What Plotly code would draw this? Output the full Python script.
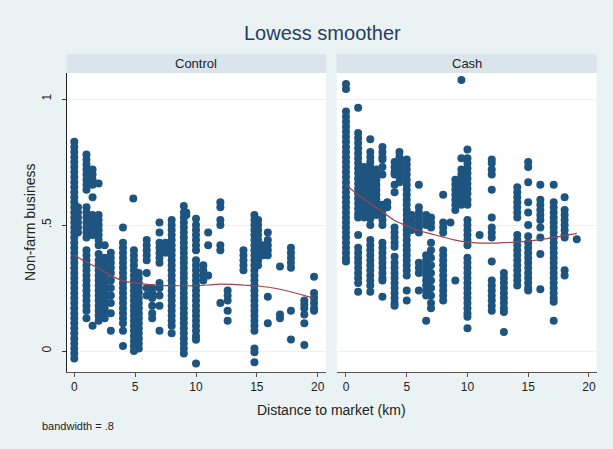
import plotly.graph_objects as go

# ---------------- data ----------------
ctrl_dist = [0.0, 0.3, 1.0, 1.5, 2.0, 2.5, 3.0, 4.0, 4.85, 4.9, 5.3, 5.95, 6.4, 7.0, 7.5,
             8.0, 9.0, 9.2, 10.0, 10.6, 11.0, 12.0, 12.6, 13.9, 14.8, 15.1, 15.5, 15.9,
             16.9, 17.8, 18.9, 19.7]
ctrl_vals = [
    [.83, .81, .79, .77, .75, .73, .71, .69, .67, .65, .63, .61, .59, .57, .55, .53, .51, .49, .47, .45,
     .43, .41, .39, .37, .35, .33, .31, .29, .27, .25, .23, .21, .19, .17, .15, .13, .11, .09, .07, .05,
     .03, .01, -.01, -.03],
    [.57, .55, .53, .51, .49, .47],
    [.78, .76, .74, .72, .70, .68, .66, .64, .57, .55, .53, .51, .49, .47, .45, .40, .38, .36, .34, .32,
     .30, .28, .26, .24, .22, .20, .18, .16, .13],
    [.72, .70, .68, .66, .61, .54, .52, .50, .48, .46, .10],
    [.665, .54, .52, .50, .48, .46, .44, .42, .385, .36, .34, .32, .30, .28, .26, .24, .22, .20, .18,
     .16, .14, .12],
    [.42, .37, .35, .33, .31, .29, .27, .25, .23, .21, .19, .17, .15, .13],
    [.39, .37, .35, .33, .31, .28, .25, .22, .19, .15, .08],
    [.49, .43, .41, .39, .37, .35, .33, .31, .29, .27, .25, .23, .21, .19, .17, .15, .13, .11, .08, .02],
    [.605],
    [.40, .38, .36, .34, .32, .30, .28, .26, .24, .22, .20, .18, .16, .14, .12, .10, .08, .06, .04, .02, .00],
    [.31, .29, .27, .25, .23, .21, .19, .17, .15, .13, .11, .09, .07, .05, .03, .01],
    [.44, .42, .40, .38, .36, .31, .25, .22],
    [.25, .23, .21, .18, .15, .13],
    [.51, .47, .43, .41, .39, .37, .35, .27, .25, .22, .18, .08],
    [.43, .41, .39],
    [.52, .50, .48, .46, .44, .42, .40, .38, .36, .34, .32, .30, .28, .26, .24, .22, .20, .18, .16, .14,
     .12, .10, .07],
    [.575, .55, .53, .51, .49, .47, .45, .43, .41, .39, .37, .35, .33, .31, .29, .27, .25, .23, .21, .19,
     .17, .15, .13, .11, .09, .07, .05, .03, .01, -.01],
    [.55, .54],
    [.525, .50, .48, .46, .44, .42, .40, .36, .34, .32, .30, .28, .26, .24, .22, .20, .18, .16, .14, .12,
     .10, .08, .06, .045, -.05],
    [.34, .32, .30, .28],
    [.47, .42, .30],
    [.59, .57, .52, .50, .42, .40, .19],
    [.24, .22, .20, .16, .12],
    [.40, .38, .36, .34, .32],
    [.54, .52, .50, .48, .46, .44, .42, .40, .38, .36, .34, .32, .30, .28, .26, .24, .22, .20, .18, .16,
     .14, .12, .10, .08, .01, -.005, -.045],
    [.52, .50, .48, .46, .44, .42, .40, .38, .36, .34],
    [.42, .40, .38],
    [.47, .44, .42, .40, .38, .215, .11],
    [.335, .145, .13],
    [.41, .39, .37, .35, .33, .16, .046],
    [.20, .185, .17, .145, .11, .024],
    [.295, .23, .21, .19, .17, .16],
]

cash_dist = [0.0, 1.0, 1.5, 2.0, 2.5, 3.0, 3.4, 4.0, 4.4, 5.0, 5.4, 6.0, 6.6, 7.0, 8.0, 8.6,
             9.0, 9.5, 10.0, 11.0, 12.0, 13.0, 14.1, 15.0, 16.0, 17.1, 18.0, 19.0]
cash_vals = [
    [1.06, 1.04, .95, .93, .91, .89, .87, .85, .83, .81, .79, .77, .75, .73, .71, .69, .67, .65, .63,
     .61, .59, .57, .55, .53, .51, .49, .47, .45, .43, .41, .39, .37, .355],
    [.965, .865, .845, .825, .805, .785, .765, .745, .725, .705, .685, .665, .645, .625, .605, .585,
     .565, .545, .53, .46, .41, .39, .37, .35, .33, .31, .29, .27, .235],
    [.73, .71, .69, .67, .65, .63, .61, .59, .57, .55, .53],
    [.84, .79, .77, .75, .73, .71, .69, .67, .645, .625, .605, .585, .565, .545, .525, .50, .44, .42,
     .40, .38, .36, .34, .32, .30, .28, .26, .235],
    [.72, .70, .68, .66, .64, .62, .60, .58, .56, .54],
    [.81, .79, .77, .76, .73, .70, .58, .56, .54, .52, .50, .43, .41, .39, .37, .35, .33, .31, .29, .28, .215],
    [.59, .57],
    [.75, .73, .71, .70, .66, .63, .49, .47, .45, .43, .414, .374, .35, .33, .31, .29, .27, .25, .23,
     .21, .19, .18],
    [.79, .77, .75, .73, .71, .69, .67],
    [.76, .74, .72, .70, .68, .66, .64, .62, .60, .58, .56, .54, .52, .50, .48, .46, .44, .42, .40, .38,
     .36, .34, .32, .30, .24, .20],
    [.54, .52, .50, .48],
    [.66, .57, .55, .53, .51, .49, .47, .35, .33, .31, .24],
    [.54, .52, .50, .38, .36, .34, .32, .30, .28, .26, .24, .22, .12],
    [.53, .51, .49, .43, .40, .37, .34, .31, .28, .25, .22, .19, .17],
    [.62, .51, .49, .47, .40, .38, .36, .34, .32, .30, .28, .26, .24, .22, .20],
    [.51],
    [.68, .66, .64, .62, .60, .58, .56, .28],
    [1.075, .765, .72, .70, .68, .66, .64, .62, .60, .58],
    [.80, .765, .745, .725, .705, .685, .665, .645, .625, .60, .58, .52, .50, .48, .46, .44, .42, .37,
     .35, .33, .31, .29, .27, .25, .23, .21, .19, .17, .15, .136, .09],
    [.46],
    [.76, .745, .72, .70, .64, .53, .49, .47, .45, .355, .28, .26, .24, .22, .20, .18, .16],
    [.31, .29, .27, .25, .23, .21, .19, .17, .155, .075],
    [.65, .63, .61, .59, .57, .55, .53, .46, .44, .42, .40, .38, .36, .34, .32, .30, .28, .26],
    [.75, .73, .67, .59, .55, .50, .455, .43, .41, .39, .37, .35, .33, .31, .29, .27, .25, .24],
    [.66, .60, .58, .56, .54, .52, .49, .45, .385, .245],
    [.66, .59, .57, .55, .53, .51, .49, .47, .45, .43, .41, .39, .37, .35, .33, .31, .29, .27, .25, .23,
     .21, .195, .12],
    [.61, .56, .54, .52, .50, .48, .46, .45, .32, .30],
    [.443],
]

ctrl_lowess_x = [0, 1, 2, 3, 4, 5, 6, 7, 8, 9, 10, 11, 12, 13, 14, 15, 16, 17, 18, 19, 19.7]
ctrl_lowess_y = [.381, .353, .328, .300, .278, .270, .264, .260, .259, .259, .259, .262, .265,
                 .264, .261, .258, .253, .244, .232, .219, .209]
cash_lowess_x = [0, 1, 2, 3, 4, 5, 6, 7, 8, 9, 10, 11, 12, 13, 14, 15, 16, 17, 18, 19]
cash_lowess_y = [.660, .620, .585, .553, .518, .497, .478, .465, .452, .440, .432, .428, .428,
                 .430, .432, .436, .442, .450, .458, .467]

panel_names = ["Control", "Cash"]
x_ticks = [0, 5, 10, 15, 20]
y_ticks = [0, 0.5, 1]
y_ticktext = ["0", ".5", "1"]

# ---------------- styling ----------------
W, H = 613, 449
BG = "#EAF2F3"
STRIP = "#D9E5EA"
NAVY = "#1E5480"
MAROON = "#A0444A"
FONT = "Liberation Sans"

def px_x(p):
    return p / W

def px_y(p):
    return 1 - p / H

def flatten(dist, vals):
    xs, ys = [], []
    for d, v in zip(dist, vals):
        for y in v:
            xs.append(d)
            ys.append(y)
    return xs, ys

fig = go.Figure()
cx, cy = flatten(ctrl_dist, ctrl_vals)
kx, ky = flatten(cash_dist, cash_vals)

marker = dict(color=NAVY, size=8, line=dict(width=0))
fig.add_trace(go.Scatter(x=cx, y=cy, mode="markers", marker=marker, xaxis="x", yaxis="y", showlegend=False))
fig.add_trace(go.Scatter(x=kx, y=ky, mode="markers", marker=marker, xaxis="x2", yaxis="y2", showlegend=False))
fig.add_trace(go.Scatter(x=ctrl_lowess_x, y=ctrl_lowess_y, mode="lines", line=dict(color=MAROON, width=1.2, shape="spline"),
                         xaxis="x", yaxis="y", showlegend=False))
fig.add_trace(go.Scatter(x=cash_lowess_x, y=cash_lowess_y, mode="lines", line=dict(color=MAROON, width=1.2, shape="spline"),
                         xaxis="x2", yaxis="y2", showlegend=False))

plot_top, plot_bot = 73, 372
left_dom = [px_x(66.7), px_x(326)]
right_dom = [px_x(336.7), px_x(596.7)]
ydom = [px_y(plot_bot), px_y(plot_top)]
yrange = [-21 / 252, 278 / 252]

xcommon = dict(tickvals=x_ticks, ticks="outside", ticklen=4, tickcolor="#555", tickwidth=1,
               showline=True, linecolor="#555", linewidth=1, showgrid=False, zeroline=False,
               tickfont=dict(family=FONT, size=12, color="#222"))
ycommon = dict(domain=ydom, range=yrange, tickvals=y_ticks, showgrid=True, gridcolor=BG, gridwidth=1,
               zeroline=False)

fig.update_layout(
    width=W, height=H, margin=dict(l=0, r=0, t=0, b=0),
    paper_bgcolor=BG, plot_bgcolor="white",
    font=dict(family=FONT, color="#222"),
    xaxis=dict(domain=left_dom, range=[-0.624, 20.68], anchor="y", **xcommon),
    xaxis2=dict(domain=right_dom, range=[-0.765, 20.64], anchor="y2", **xcommon),
    yaxis=dict(anchor="x", ticktext=y_ticktext, tickangle=-90, ticks="outside", ticklen=4, tickcolor="#333",
               showline=True, linecolor="#222", linewidth=1, ticklabelstandoff=6,
               tickfont=dict(family=FONT, size=12, color="#222"), **ycommon),
    yaxis2=dict(anchor="x2", showticklabels=False, ticks="", showline=False, **ycommon),
)

# strips
shapes = []
annotations = []
for dom, name in zip([left_dom, right_dom], panel_names):
    shapes.append(dict(type="rect", xref="paper", yref="paper", x0=dom[0], x1=dom[1],
                       y0=px_y(plot_top), y1=px_y(54), fillcolor=STRIP, line=dict(width=0), layer="below"))
    annotations.append(dict(text=name, xref="paper", yref="paper", x=(dom[0] + dom[1]) / 2, y=px_y(63.5),
                            xanchor="center", yanchor="middle", showarrow=False,
                            font=dict(family=FONT, size=13, color="#222")))

annotations.append(dict(text="Lowess smoother", xref="paper", yref="paper", x=px_x(322), y=px_y(33),
                        xanchor="center", yanchor="middle", showarrow=False,
                        font=dict(family=FONT, size=20, color="#233E63")))
annotations.append(dict(text="Non-farm business", xref="paper", yref="paper", x=px_x(30), y=px_y(222),
                        xanchor="center", yanchor="middle", textangle=-90, showarrow=False,
                        font=dict(family=FONT, size=14, color="#222")))
annotations.append(dict(text="Distance to market (km)", xref="paper", yref="paper", x=px_x(331), y=px_y(410),
                        xanchor="center", yanchor="middle", showarrow=False,
                        font=dict(family=FONT, size=14, color="#222")))
annotations.append(dict(text="bandwidth = .8", xref="paper", yref="paper", x=px_x(40), y=px_y(426),
                        xanchor="left", yanchor="middle", showarrow=False,
                        font=dict(family=FONT, size=11, color="#222")))

fig.update_layout(shapes=shapes, annotations=annotations)
fig.write_html("out.html")
